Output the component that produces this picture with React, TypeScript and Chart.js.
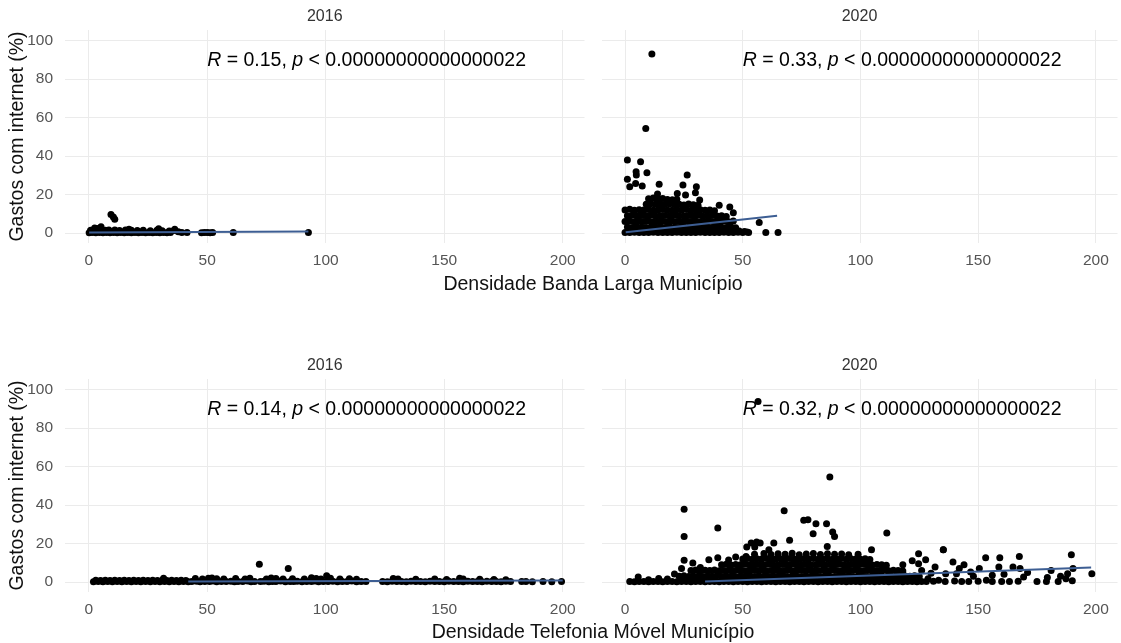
import React, { useEffect, useRef } from "react";
import { Chart, registerables } from "chart.js";

Chart.register(...registerables);

type Pt = [number, number];

const FONT = '"Liberation Sans", Arial, Helvetica, sans-serif';

// ---- axes ----
const xTicks = [0, 50, 100, 150, 200];
const yTicks = [0, 20, 40, 60, 80, 100];
const xRange: Pt = [-10, 209.2];
const yRange: Pt = [-5.2, 105.6];

// ---- text ----
const facetYears = ["2016", "2020"];
const xTitles = ["Densidade Banda Larga Município", "Densidade Telefonia Móvel Município"];
const yTitle = "Gastos com internet (%)";
const corBanda = ["0.15", "0.33"];
const corMovel = ["0.14", "0.32"];
const pLabel = "0.00000000000000022";
const labelPos: Pt = [50, 89.5];

// ---- Banda larga 2016 ----
const banda2016Points: Pt[] = [
  [0.2, 0.1], [1.5, 0.2], [3, 0.1], [4.5, 0.3], [6, 0.1], [7.5, 0.2], [9, 0.1], [10.5, 0.3], [12, 0.1], [13.5, 0.2],
  [15, 0.1], [16.5, 0.2], [18, 0.1], [19.5, 0.3], [21, 0.1], [22.5, 0.2], [24, 0.1], [25.5, 0.2], [27, 0.1], [28.5, 0.3],
  [30, 0.1], [31.5, 0.2], [33, 0.1], [34.5, 0.2],
  [0.8, 1.4], [2.2, 1.6], [3.8, 1.5], [5.2, 1.7], [7, 1.4], [8.5, 1.6], [11, 1.5], [13, 1.3], [15.5, 1.5], [18, 1.4],
  [20.5, 1.3], [23, 1.4], [26, 1.2], [28.8, 1.4], [31, 1.2], [34, 1.1], [36, 1.3],
  [2.5, 2.6], [3.6, 2.4], [5.2, 3.2], [17, 2], [29.5, 2.2], [36.3, 1.9],
  [9.4, 9.6], [10.4, 8.3], [11, 7.1],
  [37.8, 0.6], [39.3, 0.2], [41.5, 0.3], [47.6, 0.1], [48.8, 0.3], [50, 0.2], [51.2, 0.1], [52.3, 0.3], [61, 0.2], [92.7, 0.2],
];
const banda2016Fit: Pt[] = [[0.2, 0.3], [92.7, 0.8]];

// ---- Banda larga 2020 ----
const banda2020Points: Pt[] = [
  [0, 0.3], [2, 0.2], [4, 0.4], [6, 0.2], [8, 0.3], [10, 0.2], [12, 0.4], [14, 0.3], [16, 0.2], [18, 0.3],
  [20, 0.2], [22, 0.4], [24, 0.3], [26, 0.2], [28, 0.3], [30, 0.2], [32, 0.4], [34, 0.3], [36, 0.2], [38, 0.3],
  [40, 0.2], [42, 0.4], [44, 0.3], [46, 0.2], [48, 0.4], [50, 0.3], [51.8, 0.5],
  [1, 3.1], [3, 2.9], [5, 3.2], [7, 3], [9, 2.8], [11, 3.1], [13, 3], [15, 3.2], [17, 2.9], [19, 3.1],
  [21, 3], [23, 2.8], [25, 3.1], [27, 3], [29, 3.2], [31, 2.9], [33, 3], [35, 3.1], [37, 2.9], [39, 3.2],
  [41, 3], [43, 2.8], [45, 3.1], [47, 2.7],
  [0, 6], [2, 6.2], [4, 5.9], [6, 6.1], [8, 6], [10, 6.2], [12, 5.8], [14, 6], [16, 6.1], [18, 5.9],
  [20, 6.2], [22, 6], [24, 5.8], [26, 6.1], [28, 6], [30, 6.2], [32, 5.9], [34, 6], [36, 6.1], [38, 5.8],
  [40, 6], [42, 6.2], [44, 5.9], [46, 6.3],
  [1, 9], [3, 9.2], [5, 8.9], [7, 9.1], [9, 9], [11, 9.2], [13, 8.8], [15, 9], [17, 9.1], [19, 8.9],
  [21, 9.2], [23, 9], [25, 8.8], [27, 9.1], [29, 9], [31, 9.2], [33, 8.9], [35, 9], [37, 9.1], [39, 8.8],
  [41, 9], [43, 8.6],
  [0, 12], [2, 12.3], [4, 11.8], [6, 12.1], [8, 12], [10, 12.2], [12, 11.9], [14, 12], [16, 12.2], [18, 12],
  [20, 11.8], [22, 12.1], [24, 12], [26, 12.2], [28, 11.9], [30, 12], [32, 12.1], [34, 11.8], [36, 12], [38, 11.6],
  [9, 15], [11, 15.2], [13, 14.9], [15, 15.1], [17, 15], [19, 15.2], [21, 14.8], [23, 15], [25, 14.6], [27, 15.1],
  [29, 14.7], [31, 14.4],
  [10, 17.8], [12, 18.2], [14, 17.6], [16, 18], [18, 17.4], [20, 17.2], [22, 17.5],
  [40, 14.5], [44.5, 13.5], [46, 10.6], [48.5, 1], [50.7, 0.8], [57, 5.5], [59.8, 0.2], [65, 0.2], [52.5, 0.3],
  [11.4, 93.1], [8.8, 54.4], [1, 38], [6.6, 37.1], [4.7, 31.9], [4.8, 30.2], [1, 28], [9.3, 31.4], [2, 24],
  [4.5, 25.8], [7.3, 24.4], [14.5, 25.3], [26.4, 30.2], [24.6, 25], [30.3, 24.1], [13.8, 20.3], [22.2, 20.6],
  [29.9, 21], [25.7, 19.8], [31.7, 17.2], [20.1, 17.2],
];
const banda2020Fit: Pt[] = [[0.3, 0.4], [64.6, 9.0]];

// ---- Telefonia movel 2016 ----
const movel2016Points: Pt[] = [
  [2, 0.1], [4, 0.2], [6, 0.1], [8, 0.2], [10, 0.1], [12, 0.2], [14, 0.1], [16, 0.2], [18, 0.1], [20, 0.2],
  [22, 0.1], [24, 0.2], [26, 0.1], [28, 0.2], [30, 0.1], [32, 0.2], [34, 0.1], [36, 0.2], [38, 0.1], [40, 0.2], [42, 0.1],
  [3, 0.9], [5, 0.8], [7, 0.9], [9, 0.8], [11, 0.9], [13, 0.8], [15, 0.9], [17, 0.8], [19, 0.9], [21, 0.8],
  [23, 0.9], [25, 0.8], [27, 0.9], [29, 0.8], [31, 0.9], [33, 0.8], [35, 0.9], [37, 0.8], [39, 0.9], [41, 0.8],
  [31.6, 1.9],
  [43.5, 0.2], [45.5, 0.4], [47, 0.1], [49, 0.3], [51, 0.2], [52.5, 0.5], [54, 0.1], [56, 0.3], [58, 0.2], [60, 0.4],
  [61.5, 0.1], [63, 0.3], [65, 0.2], [67, 0.5], [68.5, 0.1], [70, 0.3], [72.5, 0.2], [74, 0.4], [76, 0.1], [77.5, 0.3],
  [79, 0.2], [81, 0.5], [83, 0.1], [85, 0.3], [86.5, 0.2], [88, 0.4], [90, 0.1], [92, 0.3], [94, 0.2], [95.5, 0.5],
  [97, 0.1], [99, 0.3], [101, 0.2], [103, 0.4], [105, 0.1], [107, 0.3], [109, 0.2], [111, 0.5], [113, 0.1], [115, 0.3],
  [117, 0.2], [124, 0.3], [126, 0.1], [128, 0.4], [130, 0.2], [132, 0.3], [134, 0.1], [136, 0.4], [138, 0.2], [140, 0.3],
  [142, 0.1], [144, 0.4], [146, 0.2], [148, 0.3], [150, 0.1], [152, 0.4], [154, 0.2], [156, 0.3], [158, 0.1], [160, 0.4],
  [162, 0.2], [164, 0.3], [166, 0.1], [168, 0.4], [170, 0.2], [172, 0.3], [174, 0.1], [176, 0.4], [178, 0.2],
  [182.7, 0.2], [184.5, 0.3], [187.2, 0.1], [191.7, 0.2], [195.4, 0.1], [199.5, 0.2],
  [45, 1.8], [48, 1.6], [50.5, 1.9], [52, 2.1], [54, 1.7], [57, 1.5], [62, 1.8], [66, 1.6], [68, 1.9], [75, 1.6],
  [77, 2.1], [79, 1.8], [82, 1.5], [86, 1.7], [91, 1.5], [94, 2.2], [96, 1.8], [98, 1.6], [100.4, 3.2], [102, 1.9],
  [106, 1.5], [110, 1.7], [113, 1.4], [128.5, 1.8], [130.5, 1.5], [138, 1.4], [146, 1.6], [151, 1.3], [156.5, 1.9],
  [158, 1.5], [165, 1.4], [171, 1.3], [176, 1.2],
  [72, 9.2], [84.2, 7.0],
];
const movel2016Fit: Pt[] = [[42, 0.3], [200, 0.8]];

// ---- Telefonia movel 2020 ----
const movel2020Points: Pt[] = [
  [2, 0.2], [4, 0.1], [6, 0.3], [8, 0.2], [10, 0.1], [12, 0.3], [14, 0.2], [16, 0.1], [18, 0.3], [20, 0.2],
  [22, 0.1], [24, 0.3], [26, 0.2], [28, 0.1], [30, 0.3], [32, 0.2], [34, 0.1], [36, 0.3], [38, 0.2], [40, 0.1],
  [42, 0.3], [44, 0.2], [46, 0.1], [48, 0.3], [50, 0.2], [52, 0.1], [54, 0.3], [56, 0.2], [58, 0.1], [60, 0.3],
  [62, 0.2], [64, 0.1], [66, 0.3], [68, 0.2], [70, 0.1], [72, 0.3], [74, 0.2], [76, 0.1], [78, 0.3], [80, 0.2],
  [82, 0.1], [84, 0.3], [86, 0.2], [88, 0.1], [90, 0.3], [92, 0.2], [94, 0.1], [96, 0.3], [98, 0.2], [100, 0.1],
  [102, 0.3], [104, 0.2], [106, 0.1], [108, 0.3], [110, 0.2], [112, 0.1], [114, 0.3], [116, 0.2], [118, 0.1], [120, 0.3],
  [122, 0.2], [124, 0.1],
  [23, 3], [25, 3.2], [27, 2.9], [29, 3.1], [31, 3], [33, 2.8], [35, 3.1], [37, 3], [39, 3.2], [41, 2.9],
  [43, 3.1], [45, 3], [47, 2.8], [49, 3.1], [51, 3], [53, 3.2], [55, 2.9], [57, 3.1], [59, 3], [61, 2.8],
  [63, 3.1], [65, 3], [67, 3.2], [69, 2.9], [71, 3.1], [73, 3], [75, 2.8], [77, 3.1], [79, 3], [81, 3.2],
  [83, 2.9], [85, 3.1], [87, 3], [89, 2.8], [91, 3.1], [93, 3], [95, 3.2], [97, 2.9], [99, 3.1], [101, 3],
  [103, 2.8], [105, 3.1], [107, 3], [109, 3.2], [111, 2.9], [113, 3.1], [115, 3], [117, 2.8], [119, 3.1], [121, 3],
  [123, 3.2], [125, 2.9],
  [28, 6], [30, 6.2], [32, 5.9], [34, 6.1], [36, 6], [38, 6.2], [40, 5.8], [42, 6], [44, 6.1], [46, 5.9],
  [48, 6.2], [50, 6], [52, 5.8], [54, 6.1], [56, 6], [58, 6.2], [60, 5.9], [62, 6], [64, 6.1], [66, 5.8],
  [68, 6], [70, 6.2], [72, 5.9], [74, 6.1], [76, 6], [78, 6.2], [80, 5.8], [82, 6], [84, 6.1], [86, 5.9],
  [88, 6.2], [90, 6], [92, 5.8], [94, 6.1], [96, 6], [98, 6.2], [100, 5.9], [102, 6], [104, 6.1], [106, 5.8],
  [108, 6], [110, 6.2], [112, 5.9], [114, 6.1], [116, 6], [118, 5.7],
  [41, 9], [43, 9.2], [45, 8.9], [47, 9.1], [49, 9], [51, 9.2], [53, 8.8], [55, 9], [57, 9.1], [59, 8.9],
  [61, 9.2], [63, 9], [65, 8.8], [67, 9.1], [69, 9], [71, 9.2], [73, 8.9], [75, 9], [77, 9.1], [79, 8.8],
  [81, 9], [83, 9.2], [85, 8.9], [87, 9.1], [89, 9], [91, 9.2], [93, 8.8], [95, 9], [97, 9.1], [99, 8.9],
  [101, 9.2], [103, 9], [105, 8.8], [107, 9.1], [109, 9], [111, 8.7],
  [50, 12], [52, 12.2], [54, 11.9], [56, 12.1], [58, 12], [60, 12.2], [62, 11.8], [64, 12], [66, 12.1], [68, 11.9],
  [70, 12.2], [72, 12], [74, 11.8], [76, 12.1], [78, 12], [80, 12.2], [82, 11.9], [84, 12], [86, 12.1], [88, 11.8],
  [90, 12], [92, 12.2], [94, 11.9], [96, 12.1], [98, 12], [100, 11.8], [102, 12.1], [104, 11.7],
  [55, 14.5], [59, 14.8], [62, 14.3], [65, 14.7], [68, 14.4], [71, 14.9], [74, 14.2], [77, 14.6], [80, 14.8], [83, 14.3],
  [86, 14.7], [89, 14.4], [92, 14.6], [95, 14.2], [99, 14.5],
  [5.6, 2.6], [10, 1.2], [14.3, 1.8], [18, 1.6], [21, 4.2], [24, 7], [25.1, 11.3], [28.8, 9.9], [32, 7.5], [35.6, 11.6],
  [39.4, 12.6], [44, 11.5], [47, 13],
  [124.7, 9.5], [128.7, 1.7], [131.7, 7.8], [133.2, 0.9], [136.2, 4.3], [139.3, 10.4], [140.8, 4.3], [146.8, 5.2],
  [150.5, 7], [153.5, 0.9], [158.8, 7.8], [163.3, 0.2], [164.8, 7.8], [167.8, 7], [169.3, 2.6], [175, 0.2],
  [179.4, 2.3], [187.3, 1.7], [188, 4.3], [190.3, 7], [198.3, 4.3], [153.2, 12.6], [159.2, 12.6], [167.5, 13.3],
  [189.6, 14.2], [124.7, 14.7], [127.7, 11.6], [135.2, 16.8], [144, 9], [148, 3], [156, 3.5], [161, 4], [171, 5],
  [181, 6], [185, 3], [142, 7], [130, 4.5], [126, 6], [122, 11], [118, 9], [126, 0.3], [128, 0.2], [131, 0.4],
  [136, 0.2], [140, 0.5], [143, 0.3], [146, 0.2], [150, 0.4], [156, 0.3], [160, 0.2], [167, 0.4], [179, 0.2],
  [184, 0.3], [190, 0.6],
  [56.5, 93.9], [87, 54.6], [25.1, 37.8], [67.6, 37.1], [39.4, 28.1], [25.1, 23.7], [75.9, 32.1], [77.7, 32.4],
  [81.1, 30.3], [85.6, 30.3], [79.9, 25.1], [88.2, 26], [89, 23.7], [111.2, 25.5], [51.7, 18.2], [53.6, 20.3],
  [55.9, 20.8], [57.4, 20.3], [55.1, 18.2], [61.1, 16.8], [63.2, 20.3], [69.9, 21.7], [85.9, 18.5], [104.7, 16.8],
  [135.2, 16.8], [51.4, 13.3],
];
const movel2020Fit: Pt[] = [[34, 0.3], [198, 7.5]];

const LINE_COLOR = "#3d5e93";
const GRID_COLOR = "#ebebeb";

type PanelProps = {
  points: Pt[];
  fit: Pt[];
  year: string;
  r: string;
  showY: boolean;
  left: number;
  top: number;
  width: number;
};

function Panel({ points, fit, year, r, showY, left, top, width }: PanelProps) {
  const ref = useRef<HTMLCanvasElement | null>(null);

  useEffect(() => {
    if (!ref.current) return;
    const textPlugin = {
      id: "facetText",
      afterDatasetsDraw(chart: any) {
        const { ctx, chartArea, scales } = chart;
        ctx.save();
        ctx.fillStyle = "#333333";
        ctx.font = `16px ${FONT}`;
        ctx.textAlign = "center";
        ctx.textBaseline = "middle";
        ctx.fillText(year, (chartArea.left + chartArea.right) / 2, 17);
        let x = scales.x.getPixelForValue(labelPos[0]);
        const y = scales.y.getPixelForValue(labelPos[1]);
        ctx.textAlign = "left";
        ctx.fillStyle = "#000000";
        const segs: [string, boolean][] = [
          ["R", true],
          [` = ${r}, `, false],
          ["p", true],
          [` < ${pLabel}`, false],
        ];
        for (const [t, it] of segs) {
          ctx.font = `${it ? "italic " : ""}19.5px ${FONT}`;
          ctx.fillText(t, x, y);
          x += ctx.measureText(t).width;
        }
        ctx.restore();
      },
    };

    const chart = new Chart(ref.current, {
      type: "scatter",
      data: {
        datasets: [
          {
            data: fit.map(([x, y]) => ({ x, y })),
            showLine: true,
            pointRadius: 0,
            borderColor: LINE_COLOR,
            borderWidth: 2,
            order: 0,
          } as any,
          {
            data: points.map(([x, y]) => ({ x, y })),
            pointRadius: 3.5,
            pointHoverRadius: 3.5,
            backgroundColor: "#000000",
            borderWidth: 0,
            order: 1,
          },
        ],
      },
      options: {
        animation: false,
        responsive: false,
        maintainAspectRatio: false,
        devicePixelRatio: 1,
        events: [],
        layout: { padding: { top: 30, left: 0, right: 0, bottom: 0 } },
        plugins: { legend: { display: false }, tooltip: { enabled: false } },
        scales: {
          x: {
            type: "linear",
            bounds: "data",
            min: xRange[0],
            max: xRange[1],
            afterBuildTicks: (s: any) => {
              s.ticks = xTicks.map((v) => ({ value: v }));
            },
            afterFit: (s: any) => {
              s.height = 32;
            },
            grid: { color: GRID_COLOR, lineWidth: 1, drawTicks: false },
            border: { display: false },
            ticks: {
              color: "#555555",
              font: { size: 15.5, family: FONT },
              padding: 8,
              maxRotation: 0,
              autoSkip: false,
            },
          },
          y: {
            type: "linear",
            bounds: "data",
            min: yRange[0],
            max: yRange[1],
            afterBuildTicks: (s: any) => {
              s.ticks = yTicks.map((v) => ({ value: v }));
            },
            afterFit: (s: any) => {
              s.width = showY ? 65 : 0;
            },
            grid: { color: GRID_COLOR, lineWidth: 1, drawTicks: false },
            border: { display: false },
            ticks: {
              display: showY,
              color: "#555555",
              font: { size: 15.5, family: FONT },
              padding: 12,
            },
            title: {
              display: showY,
              text: yTitle,
              color: "#111111",
              font: { size: 19.5, family: FONT },
              padding: { top: 6, bottom: 0 },
            },
          },
        },
      },
      plugins: [textPlugin],
    } as any);
    return () => chart.destroy();
  }, [points, fit, year, r, showY]);

  return (
    <canvas
      ref={ref}
      width={width}
      height={275}
      style={{ position: "absolute", left, top, width, height: 275 }}
    />
  );
}

export default function App() {
  const titleStyle = (top: number): React.CSSProperties => ({
    position: "absolute",
    left: 65,
    width: 1056,
    top,
    textAlign: "center",
    fontFamily: FONT,
    fontSize: 19.5,
    lineHeight: "19.5px",
    color: "#111111",
    whiteSpace: "nowrap",
  });
  return (
    <div
      style={{
        position: "fixed",
        left: 0,
        top: 0,
        width: 1121,
        height: 643,
        overflow: "hidden",
        background: "#ffffff",
      }}
    >
      <Panel points={banda2016Points} fit={banda2016Fit} year={facetYears[0]} r={corBanda[0]} showY={true} left={0} top={0} width={588} />
      <Panel points={banda2020Points} fit={banda2020Fit} year={facetYears[1]} r={corBanda[1]} showY={false} left={598} top={0} width={523} />
      <Panel points={movel2016Points} fit={movel2016Fit} year={facetYears[0]} r={corMovel[0]} showY={true} left={0} top={349} width={588} />
      <Panel points={movel2020Points} fit={movel2020Fit} year={facetYears[1]} r={corMovel[1]} showY={false} left={598} top={349} width={523} />
      <div style={titleStyle(273.5)}>{xTitles[0]}</div>
      <div style={titleStyle(622)}>{xTitles[1]}</div>
    </div>
  );
}
